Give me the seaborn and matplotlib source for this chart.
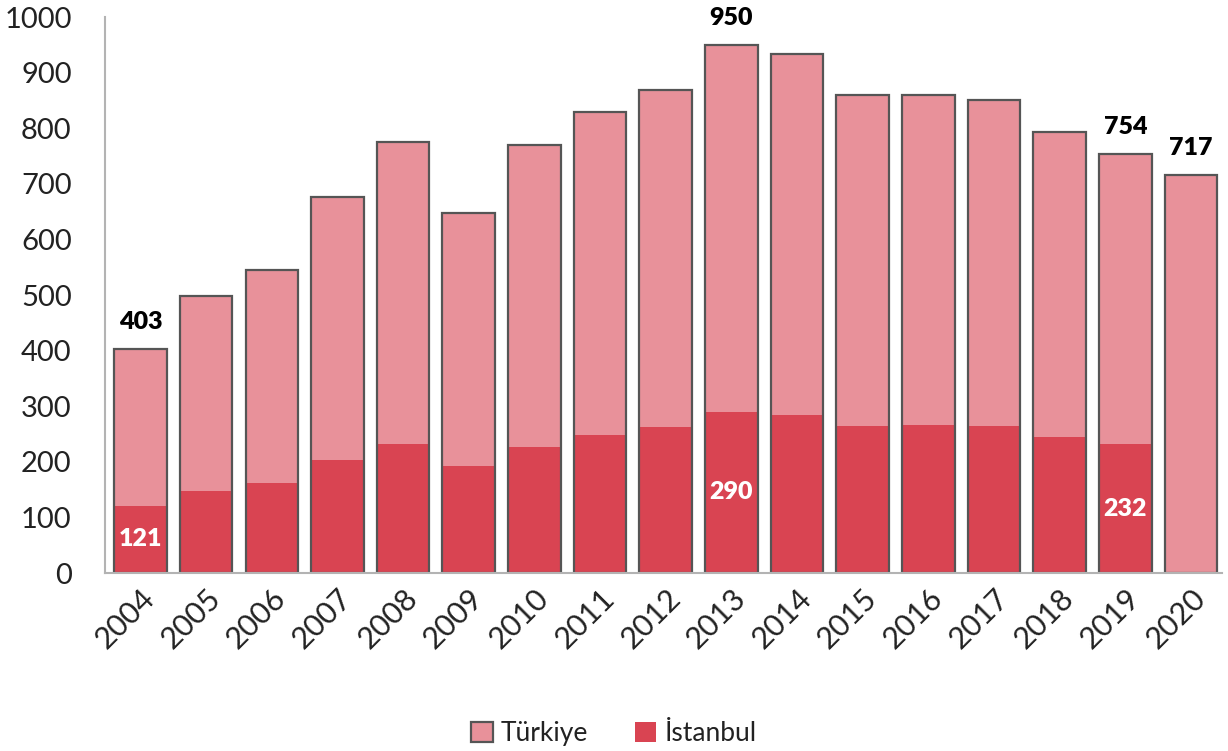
import numpy as np
import pandas as pd
import matplotlib
matplotlib.use("Agg")
import matplotlib.pyplot as plt
from matplotlib.patches import Patch
import seaborn as sns

# Veriler
years = [str(y) for y in range(2004, 2021)]
turkiye = [403, 499, 546, 676, 775, 647, 771, 829, 869, 950, 934, 860, 861, 851, 794, 754, 717]
istanbul = [121, 147, 162, 203, 233, 192, 226, 248, 262, 290, 284, 264, 266, 264, 244, 232, np.nan]

# Etiket gösterilecek yıllar
top_labels = ['2004', '2013', '2019', '2020']
inner_labels = ['2004', '2013', '2019']

TURKIYE_COLOR = '#E8919A'
ISTANBUL_COLOR = '#D94452'
EDGE_COLOR = '#555555'
AXIS_COLOR = '#b3b3b3'

df = pd.DataFrame({'Yıl': years, 'Türkiye': turkiye, 'İstanbul': istanbul})

sns.set_theme(style="white")
plt.rcParams['font.family'] = ['Lato', 'DejaVu Sans']

fig = plt.figure(figsize=(12.28, 7.51), dpi=100)
ax = fig.add_axes([0.0855, 0.237, 0.9095, 0.74])

sns.barplot(data=df, x='Yıl', y='Türkiye', order=years, color=TURKIYE_COLOR,
            saturation=1, width=0.8, linewidth=0, ax=ax)
sns.barplot(data=df, x='Yıl', y='İstanbul', order=years, color=ISTANBUL_COLOR,
            saturation=1, width=0.8, linewidth=0, ax=ax)
# Türkiye çubuklarının çerçevesi en üstte
sns.barplot(data=df, x='Yıl', y='Türkiye', order=years, color=EDGE_COLOR,
            fill=False, width=0.8, linewidth=1.6, ax=ax)

ax.set_ylim(0, 1000)
ax.set_xlim(-0.54, 16.47)
ax.set_yticks(range(0, 1001, 100))
ax.set_xlabel('')
ax.set_ylabel('')
ax.tick_params(axis='both', length=0, labelsize=21, labelcolor='#222222')
ax.tick_params(axis='x', labelsize=22, pad=8)
ax.tick_params(axis='y', pad=24)
plt.setp(ax.get_xticklabels(), rotation=45, ha='right', rotation_mode='anchor')

for side in ['top', 'right']:
    ax.spines[side].set_visible(False)
for side in ['left', 'bottom']:
    ax.spines[side].set_color(AXIS_COLOR)
    ax.spines[side].set_linewidth(1.5)

# Değer etiketleri
for i, y in enumerate(years):
    if y in top_labels:
        ax.text(i, turkiye[i] + 28, f'{turkiye[i]:.0f}', ha='center', va='bottom',
                fontsize=18, fontweight='heavy', color='black')
    if y in inner_labels:
        ax.text(i, istanbul[i] / 2, f'{istanbul[i]:.0f}', ha='center', va='center',
                fontsize=18, fontweight='heavy', color='white')

handles = [Patch(facecolor=TURKIYE_COLOR, edgecolor=EDGE_COLOR, linewidth=1.6, label='Türkiye'),
           Patch(facecolor=ISTANBUL_COLOR, edgecolor='none', label='İstanbul')]
fig.legend(handles=handles, loc='lower center', bbox_to_anchor=(0.5, -0.025), ncol=2,
           frameon=False, fontsize=19, handlelength=0.8, handleheight=0.8,
           handletextpad=0.3, columnspacing=1.8, labelcolor='#222222')

fig.savefig('out.png', dpi=100)
